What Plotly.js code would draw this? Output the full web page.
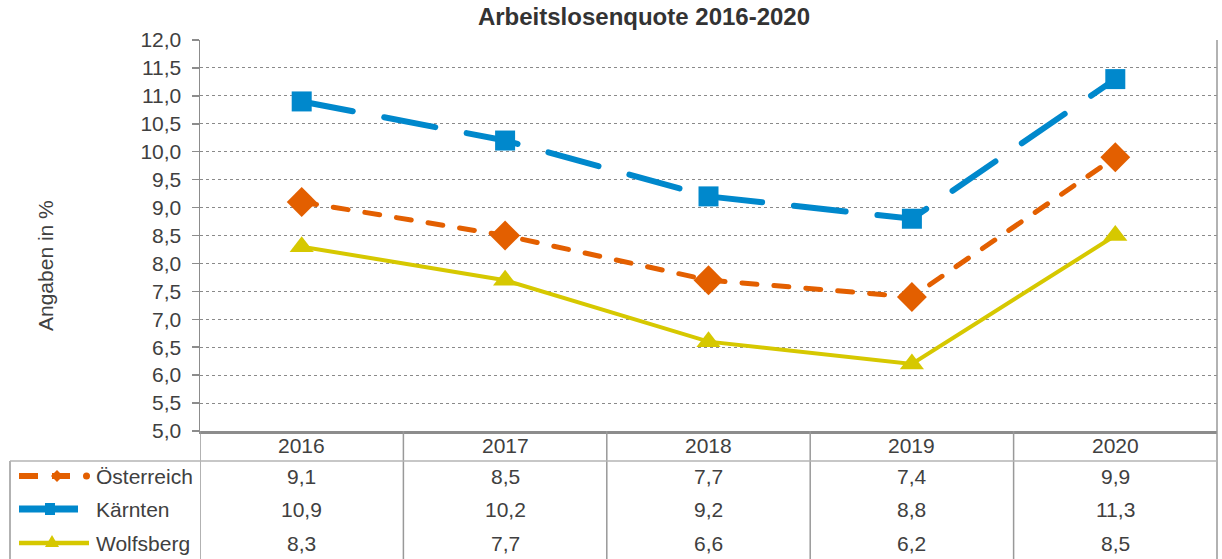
<!DOCTYPE html>
<html>
<head>
<meta charset="utf-8">
<script src="https://cdn.plot.ly/plotly-3.0.1.min.js"></script>
<style>html,body{margin:0;padding:0;background:#fff;}#chart{width:1222px;height:559px;}
.scatterlayer .js-line{stroke-linecap:round !important;}
</style>
</head>
<body>
<div id="chart"></div>
<script>
// ---- data ----
const years = ['2016', '2017', '2018', '2019', '2020'];
const seriesNames = ['Österreich', 'Kärnten', 'Wolfsberg'];
const oesterreich = [9.1, 8.5, 7.7, 7.4, 9.9];
const kaernten = [10.9, 10.2, 9.2, 8.8, 11.3];
const wolfsberg = [8.3, 7.7, 6.6, 6.2, 8.5];
const chartTitle = 'Arbeitslosenquote 2016-2020';
const yTitle = 'Angaben in %';

// ---- layout geometry ----
const W = 1222, H = 559;
const L = 200, R = 5, T = 40, B = 128;
const plotW = W - L - R, plotH = H - T - B;
const px2x = px => (px - L) / plotW;
const py2y = py => (H - B - py) / plotH;

const FONT = 'Liberation Sans, Arial, sans-serif';
const TXT = '#404040';
const FS = 21;
const cOrange = '#E35F00', cBlue = '#0088CC', cYellow = '#D6C800';

const seriesVals = [oesterreich, kaernten, wolfsberg];
const styles = [
  {color: cOrange, dash: '15px,17px', width: 5, symbol: 'diamond', size: 23},
  {color: cBlue, dash: '52px,32px', width: 6, symbol: 'square', size: 20},
  {color: cYellow, dash: 'solid', width: 4, symbol: 'triangle-up', size: 21}
];

const traces = seriesVals.map((vals, i) => ({
  type: 'scatter', mode: 'lines+markers', name: seriesNames[i],
  x: years, y: vals,
  line: {color: styles[i].color, width: styles[i].width, dash: styles[i].dash},
  marker: {color: styles[i].color, symbol: styles[i].symbol, size: styles[i].size, line: {width: 0}},
  showlegend: false, cliponaxis: false
}));

const shapes = [];
const annotations = [];
const gridC = '#999999';
// right border of plot + table
shapes.push({type: 'line', xref: 'paper', yref: 'paper', x0: 1, x1: 1, y0: 1, y1: py2y(H), line: {color: gridC, width: 1.5}});
// table vertical lines at category boundaries
for (let k = 0; k < years.length; k++) {
  shapes.push({type: 'line', xref: 'x', yref: 'paper', x0: k - 0.5, x1: k - 0.5, y0: 0, y1: py2y(H), line: {color: gridC, width: 1.5}});
}
// left border of legend column and header bottom line
shapes.push({type: 'line', xref: 'paper', yref: 'paper', x0: px2x(10), x1: px2x(10), y0: py2y(461), y1: py2y(H), line: {color: gridC, width: 1.5}});
shapes.push({type: 'line', xref: 'paper', yref: 'paper', x0: px2x(10), x1: 1, y0: py2y(461), y1: py2y(461), line: {color: '#b5b5b5', width: 1.5}});

const rowY = [476, 509, 543];
const headerY = 445;
// legend keys
function seg(x0, x1, y, color, w) {
  shapes.push({type: 'line', xref: 'paper', yref: 'paper', x0: px2x(x0), x1: px2x(x1), y0: py2y(y), y1: py2y(y), line: {color: color, width: w}});
}
function pathShape(pts, color) {
  const d = 'M ' + pts.map(p => px2x(p[0]) + ',' + py2y(p[1])).join(' L ') + ' Z';
  shapes.push({type: 'path', xref: 'paper', yref: 'paper', path: d, fillcolor: color, line: {color: color, width: 0}});
}
// Österreich key
let y = rowY[0];
seg(19, 38, y, cOrange, 6);
seg(52, 70, y, cOrange, 6);
pathShape([[57, y - 6], [63, y], [57, y + 6], [51, y]], cOrange);
shapes.push({type: 'circle', xref: 'paper', yref: 'paper', x0: px2x(83), x1: px2x(90), y0: py2y(y + 3.5), y1: py2y(y - 3.5), fillcolor: cOrange, line: {width: 0}});
// Kärnten key
y = rowY[1];
seg(19, 78, y, cBlue, 7);
pathShape([[45, y - 6], [55, y - 6], [55, y + 6], [45, y + 6]], cBlue);
// Wolfsberg key
y = rowY[2];
seg(19, 89, y, cYellow, 4.5);
pathShape([[52, y - 8], [59, y + 4], [45, y + 4]], cYellow);

// legend names
seriesNames.forEach((n, i) => {
  annotations.push({xref: 'paper', yref: 'paper', x: px2x(94), y: py2y(rowY[i]), xanchor: 'left', yanchor: 'middle',
    text: n, showarrow: false, font: {family: FONT, size: FS, color: TXT}});
});
// header years (category index positions on the x axis)
years.forEach((yr, k) => {
  annotations.push({xref: 'x', yref: 'paper', x: k, y: py2y(headerY), xanchor: 'center', yanchor: 'middle',
    text: yr, showarrow: false, font: {family: FONT, size: FS, color: TXT}});
});
// table values
seriesVals.forEach((vals, i) => {
  vals.forEach((v, k) => {
    annotations.push({xref: 'x', yref: 'paper', x: k, y: py2y(rowY[i]), xanchor: 'center', yanchor: 'middle',
      text: v.toFixed(1).replace('.', ','), showarrow: false, font: {family: FONT, size: FS, color: TXT}});
  });
});
// y title
annotations.push({xref: 'paper', yref: 'paper', x: px2x(45), y: py2y(266), xanchor: 'center', yanchor: 'middle',
  text: yTitle, textangle: -90, showarrow: false, font: {family: FONT, size: FS, color: TXT}});

const layout = {
  width: W, height: H,
  margin: {l: L, r: R, t: T, b: B, pad: 0},
  paper_bgcolor: '#fff', plot_bgcolor: '#fff',
  separators: ', ',
  font: {family: FONT, size: FS, color: TXT},
  title: {text: '<b>' + chartTitle + '</b>', xref: 'paper', x: px2x(644), xanchor: 'center',
    yref: 'container', y: 1 - 17 / H, yanchor: 'middle', font: {family: FONT, size: 24, color: '#333'}},
  xaxis: {type: 'category', range: [-0.5, 4.5], showgrid: false, zeroline: false,
    showline: true, linecolor: '#8c8c8c', linewidth: 2.5, ticks: '', showticklabels: false, fixedrange: true},
  yaxis: {range: [5, 12], dtick: 0.5, tick0: 5, tickformat: '.1f', showgrid: true, gridcolor: '#8a8a8a',
    griddash: 'dot', gridwidth: 1, zeroline: false, showline: true, linecolor: '#8c8c8c', linewidth: 1.5,
    ticks: 'outside', ticklen: 7, tickcolor: '#8c8c8c', tickwidth: 1.5, ticklabelstandoff: 6,
    tickfont: {family: FONT, size: FS, color: TXT}, fixedrange: true},
  shapes: shapes,
  annotations: annotations
};

Plotly.newPlot('chart', traces, layout, {displayModeBar: false, staticPlot: true});
</script>
</body>
</html>
